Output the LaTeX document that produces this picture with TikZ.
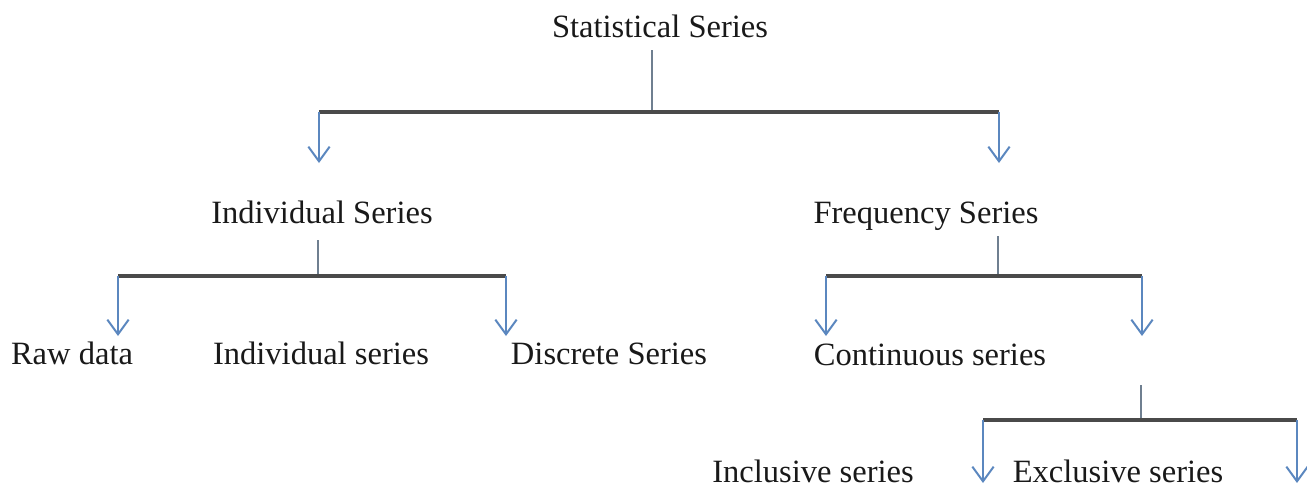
\documentclass[tikz,border=0pt]{standalone}
\usepackage{fontspec}
\setmainfont{Liberation Serif}
\usetikzlibrary{arrows.meta}
\definecolor{arrblue}{HTML}{5B87BF}
\definecolor{bargray}{HTML}{4A4A4A}
\definecolor{stemgray}{HTML}{6F7F90}
\begin{document}
\begin{tikzpicture}[x=0.75pt,y=-0.75pt,
  lbl/.style={anchor=base,inner sep=0pt,font=\fontsize{24.4}{28}\selectfont,text=black!90},
  bar/.style={draw=bargray,line width=2.6pt},
  stem/.style={draw=stemgray,line width=1.1pt},
  arr/.style={draw=arrblue,line width=1.5pt,-{Straight Barb[length=11pt,width=16pt,line width=1.5pt]}}]
\useasboundingbox (0,0) rectangle (1307,487);
% labels
\node[lbl] (ss)   at (660,37)  {Statistical Series};
\node[lbl] (inds) at (322,223) {Individual Series};
\node[lbl] (freq) at (926,223) {Frequency Series};
\node[lbl] (raw)  at (72,364)  {Raw data};
\node[lbl] (indl) at (321,364) {Individual series};
\node[lbl] (disc) at (609,364) {Discrete Series};
\node[lbl] (cont) at (930,365) {Continuous series};
\node[lbl] (incl) at (813,482) {Inclusive series};
\node[lbl] (excl) at (1118,482) {Exclusive series};
% level 1
\coordinate (s1t) at (652,50);
\coordinate (s1b) at (652,112);
\coordinate (b1l) at (319,112);
\coordinate (b1r) at (999,112);
\coordinate (t1l) at (319,163);
\coordinate (t1r) at (999,163);
\draw[stem] (s1t) -- (s1b);
\draw[bar] (b1l) -- (b1r);
\draw[arr] (b1l) -- (t1l);
\draw[arr] (b1r) -- (t1r);
% individual branch
\coordinate (s2t) at (318,240);
\coordinate (s2b) at (318,276);
\coordinate (b2l) at (118,276);
\coordinate (b2r) at (506,276);
\coordinate (t2l) at (118,336);
\coordinate (t2r) at (506,336);
\draw[stem] (s2t) -- (s2b);
\draw[bar] (b2l) -- (b2r);
\draw[arr] (b2l) -- (t2l);
\draw[arr] (b2r) -- (t2r);
% frequency branch
\coordinate (s3t) at (998,236);
\coordinate (s3b) at (998,276);
\coordinate (b3l) at (826,276);
\coordinate (b3r) at (1142,276);
\coordinate (t3l) at (826,336);
\coordinate (t3r) at (1142,336);
\draw[stem] (s3t) -- (s3b);
\draw[bar] (b3l) -- (b3r);
\draw[arr] (b3l) -- (t3l);
\draw[arr] (b3r) -- (t3r);
% continuous branch
\coordinate (s4t) at (1141,385);
\coordinate (s4b) at (1141,420);
\coordinate (b4l) at (983,420);
\coordinate (b4r) at (1297,420);
\coordinate (t4l) at (983,483);
\coordinate (t4r) at (1297,483);
\draw[stem] (s4t) -- (s4b);
\draw[bar] (b4l) -- (b4r);
\draw[arr] (b4l) -- (t4l);
\draw[arr] (b4r) -- (t4r);
\end{tikzpicture}
\end{document}
